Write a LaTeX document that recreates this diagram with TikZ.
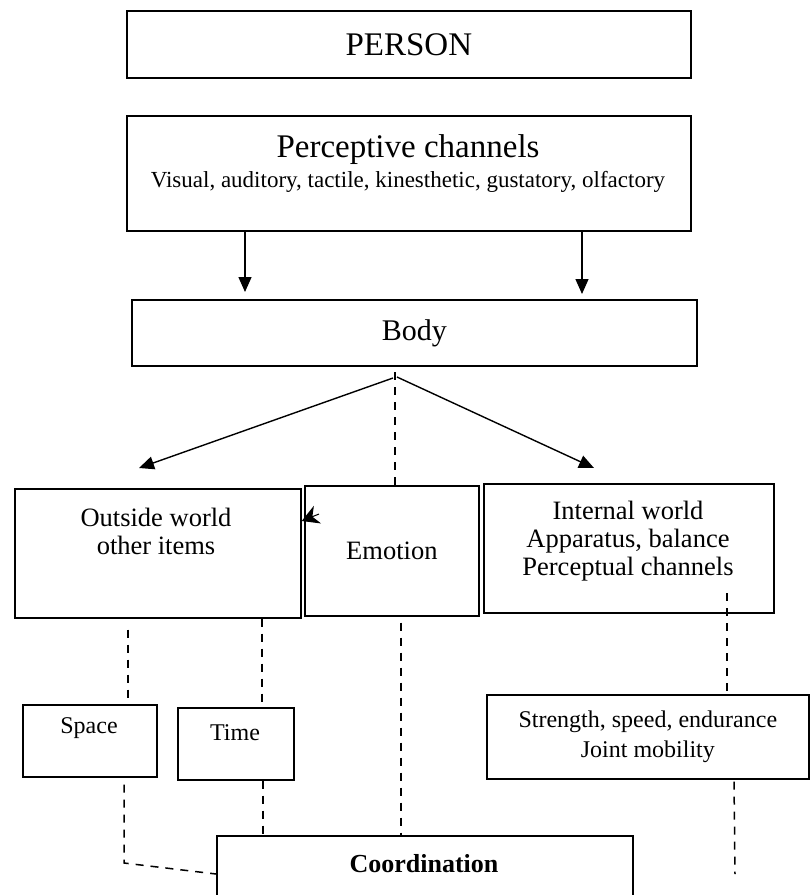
\documentclass[tikz,border=0pt]{standalone}
\usepackage{fontspec}
\setmainfont{Liberation Serif}
\usetikzlibrary{arrows.meta}

\begin{document}
\begin{tikzpicture}[
        x=1pt, y=-1pt,
        box/.style={draw, line width=1.7pt, inner sep=0pt, anchor=north west, align=center},
        big/.style={font=\fontsize{33}{38}\selectfont},
        mid/.style={align=center, font=\fontsize{26.5}{28}\selectfont},
        low/.style={align=center, font=\fontsize{24}{30}\selectfont},
        link/.style={line width=1.5pt, dash pattern=on 8pt off 7pt},
        arr/.style={line width=1.4pt, -{Triangle[length=15pt,width=13pt]}},
    ]
    \useasboundingbox (0,0) rectangle (810,895);
    % top boxes
    \node[box, big, minimum width=564pt, minimum height=67pt] (person) at (126,10) {PERSON};
    \node[box, minimum width=564pt, minimum height=115pt] (percept) at (126,115) {};
    \node[big, anchor=base] (percepttitle) at (408,157) {Perceptive channels};
    \node[font=\fontsize{23}{26}\selectfont, anchor=base] (perceptsub) at (408,187)
        {Visual, auditory, tactile, kinesthetic, gustatory, olfactory};
    \node[box, font=\fontsize{30}{34}\selectfont, minimum width=565pt, minimum height=66pt] (body) at (131,299) {Body};
    % middle row
    \node[box, minimum width=286pt, minimum height=129pt] (outside) at (14,488) {};
    \node[mid] (outsidetext) at (156,531) {Outside world\\other items};
    \node[box, mid, minimum width=174pt, minimum height=130pt] (emotion) at (304,485) {Emotion};
    \node[box, minimum width=290pt, minimum height=129pt] (internal) at (483,483) {};
    \node[mid] (internaltext) at (628,541) {Internal world\\Apparatus, balance\\Perceptual channels};
    % lower row
    \node[box, minimum width=134pt, minimum height=72pt] (space) at (22,704) {};
    \node[low] (spacetext) at (89,728) {Space};
    \node[box, minimum width=116pt, minimum height=72pt] (time) at (177,707) {};
    \node[low] (timetext) at (235,733) {Time};
    \node[box, low, minimum width=322pt, minimum height=84pt] (strength) at (486,694)
        {Strength, speed, endurance\\Joint mobility};
    \node[box, minimum width=416pt, minimum height=100pt] (coord) at (216,835) {};
    \node[font=\bfseries\fontsize{26}{30}\selectfont, anchor=base] (coordtext) at (424,872) {Coordination};
    % free ends
    \coordinate (fork) at (395,372);
    \coordinate (leftend) at (139,468);
    \coordinate (rightend) at (594,468);
    \coordinate (flagtail) at (319,514);
    \coordinate (bend) at (124,863);
    \coordinate (instart) at (727,593);
    \coordinate (loose) at (735,874);
    % arrows
    \draw[arr, shorten >=7pt] (percept.south -| 245,0) -- (body.north -| 245,0);
    \draw[arr, shorten >=5pt] (percept.south -| 582,0) -- (body.north -| 582,0);
    \draw[arr] ([xshift=-2pt]fork |- 0,378) -- (leftend);
    \draw[arr] ([xshift=2pt]fork |- 0,377) -- (rightend);
    \draw[-{Stealth[length=17pt,width=19pt]}, line width=1pt] (flagtail) -- (outside.east |- 0,521);
    % dashed links
    \draw[link] (fork) -- (emotion.north -| fork);
    \draw[link, shorten <=11pt] (outside.south -| 128,0) -- (space.north -| 128,0);
    \draw[link] (outside.south -| 262,0) -- (time.north -| 262,0);
    \draw[link, shorten <=6pt] (emotion.south -| 401,0) -- (coord.north -| 401,0);
    \draw[link] (instart) -- (strength.north -| 727,0);
    \draw[link, shorten <=7pt] (space.south -| 124,0) -- (bend) -- (coord.west |- 0,874);
    \draw[link] (time.south -| 263,0) -- (coord.north -| 263,0);
    \draw[link, shorten <=2pt] (strength.south -| 734,0) -- (loose);
\end{tikzpicture}
\end{document}
